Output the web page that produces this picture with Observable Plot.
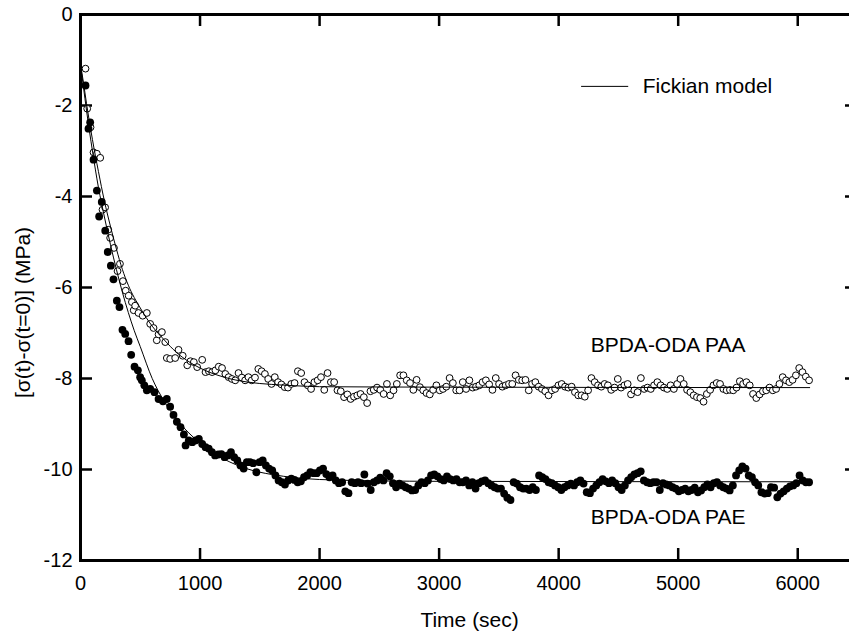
<!DOCTYPE html>
<html>
<head>
<meta charset="utf-8">
<script src="https://cdn.jsdelivr.net/npm/d3@7"></script>
<script src="https://cdn.jsdelivr.net/npm/@observablehq/plot@0.6"></script>
<style>
  html, body { margin: 0; padding: 0; background: #fff; overflow: hidden; }
  #chart { width: 849px; height: 634px; overflow: hidden; }
  #chart svg { max-width: none !important; }
</style>
</head>
<body>
<div id="chart"></div>
<script>
// ---- axis ticks ----
const xTicks = [0, 1000, 2000, 3000, 4000, 5000, 6000];
const yTicks = [0, -2, -4, -6, -8, -10, -12];

// ---- BPDA-ODA PAA (open circles): early decay, explicit times (s) ----
const paaEarlyT = [42, 56, 84, 109, 137, 165, 184, 206, 232, 248, 280, 310, 330, 355, 378, 403, 430, 445, 457, 485,
  520, 555, 583, 611, 638, 653, 681, 709, 722, 750, 792, 820, 855, 893, 920, 948, 976, 1018];
const paaEarlyV = [-1.19, -2.07, -2.48, -3.03, -3.06, -3.15, -4.29, -4.24, -4.73, -4.91, -5.13, -5.64, -5.48, -5.86, -6.07, -6.18, -6.32, -6.5, -6.4, -6.56,
  -6.62, -6.56, -6.8, -6.89, -7.16, -7.03, -6.98, -7.2, -7.55, -7.57, -7.55, -7.37, -7.5, -7.71, -7.62, -7.64, -7.75, -7.59];
// PAA plateau, evenly sampled from 1046 s to 6095 s
const paaPlateauStart = 1046, paaPlateauEnd = 6095;
const paaPlateauV = [
  -7.86, -7.84, -7.86, -7.82, -7.74, -7.77, -7.9, -7.97, -8.01, -8.04,
  -7.88, -7.98, -8.04, -7.97, -8.04, -7.98, -7.79, -7.84, -7.9, -8.01,
  -8.12, -7.97, -8.08, -8.13, -8.19, -8.2, -8.12, -8.1, -7.84, -7.88,
  -8.08, -8.15, -8.23, -8.08, -8.04, -7.97, -8.25, -7.88, -8.08, -8.08,
  -8.26, -8.28, -8.41, -8.35, -8.45, -8.4, -8.37, -8.34, -8.41, -8.54,
  -8.28, -8.25, -8.2, -8.25, -8.34, -8.12, -8.37, -8.26, -8.12, -7.93,
  -7.93, -8.04, -8.1, -8.25, -8.03, -8.19, -8.26, -8.32, -8.35, -8.25,
  -8.15, -8.26, -8.23, -8.18, -7.99, -8.1, -8.26, -8.26, -8.08, -8.23,
  -8.04, -8.2, -8.18, -8.15, -8.08, -8.04, -8.13, -8.25, -7.99, -8.12,
  -8.18, -8.15, -8.12, -8.12, -7.93, -8.03, -8.04, -8.03, -8.26, -8.12,
  -8.08, -8.18, -8.23, -8.28, -8.37, -8.26, -8.23, -8.15, -8.12, -8.18,
  -8.2, -8.18, -8.3, -8.37, -8.37, -8.4, -8.26, -7.99, -8.08, -8.15,
  -8.18, -8.12, -8.15, -8.25, -8.2, -8.01, -8.2, -8.15, -8.12, -8.35,
  -8.26, -8.3, -7.99, -8.23, -8.2, -8.23, -8.15, -8.08, -8.15, -8.2,
  -8.23, -8.15, -8.23, -8.12, -8.01, -8.12, -8.25, -8.3, -8.37, -8.41,
  -8.43, -8.51, -8.34, -8.25, -8.15, -8.1, -8.12, -8.23, -8.26, -8.25,
  -8.26, -8.2, -8.06, -8.12, -8.08, -8.15, -8.34, -8.43, -8.35, -8.28,
  -8.26, -8.2, -8.26, -8.23, -8.12, -7.97, -8.04, -8.08, -8.03, -7.93,
  -7.77, -7.86, -7.96, -8.04
];

// ---- BPDA-ODA PAE (filled circles): early decay, explicit times (s) ----
const paeEarlyT = [42, 67, 81, 109, 137, 156, 178, 207, 228, 254, 276, 304, 326, 351, 374, 402, 424, 452, 480, 499,
  513, 534, 555, 583, 619, 653, 690, 722, 750, 778, 806, 837, 865, 879, 906, 935, 962, 990, 1018];
const paeEarlyV = [-1.56, -2.51, -2.37, -3.19, -3.87, -4.44, -4.12, -4.75, -5.22, -5.52, -5.82, -6.29, -6.43, -6.93, -7.02, -7.18, -7.48, -7.74, -7.82, -7.97,
  -8.04, -8.15, -8.26, -8.23, -8.3, -8.45, -8.5, -8.45, -8.62, -8.8, -8.95, -9.07, -9.23, -9.47, -9.36, -9.4, -9.36, -9.33, -9.44];
// PAE plateau, evenly sampled from 1046 s to 6095 s
const paePlateauStart = 1046, paePlateauEnd = 6095;
const paePlateauV = [
  -9.51, -9.54, -9.62, -9.69, -9.67, -9.66, -9.73, -9.69, -9.62, -9.73,
  -9.8, -9.91, -9.98, -9.84, -9.84, -9.86, -10.06, -9.84, -9.8, -9.91,
  -9.98, -10.02, -10.13, -10.24, -10.28, -10.33, -10.24, -10.2, -10.23, -10.28,
  -10.26, -10.17, -10.13, -10.06, -10.08, -10.08, -10.02,
  -9.98, -10.1, -10.17, -10.13, -10.24, -10.3, -10.28, -10.48, -10.52, -10.28,
  -10.3, -10.28, -10.3, -10.11, -10.31, -10.45, -10.28, -10.24, -10.18, -10.24,
  -10.08, -10.15, -10.3, -10.39, -10.31, -10.35, -10.39, -10.42, -10.46, -10.45,
  -10.35, -10.28, -10.3, -10.24, -10.13, -10.11, -10.15, -10.21, -10.24, -10.15,
  -10.21, -10.24, -10.21, -10.28, -10.28, -10.24, -10.35, -10.28, -10.42, -10.3,
  -10.26, -10.24, -10.3, -10.35, -10.39, -10.42, -10.42, -10.53, -10.62, -10.67,
  -10.28, -10.31, -10.39, -10.42, -10.42, -10.45, -10.39, -10.45, -10.13, -10.17,
  -10.21, -10.28, -10.3, -10.35, -10.39, -10.45, -10.39, -10.35, -10.31, -10.35,
  -10.28, -10.24, -10.31, -10.5, -10.52, -10.42, -10.35, -10.28,
  -10.21, -10.26, -10.3, -10.24, -10.3, -10.39, -10.45, -10.35, -10.24, -10.17,
  -10.11, -10.08, -10.04, -10.24, -10.28, -10.3, -10.28, -10.28, -10.45, -10.3,
  -10.33, -10.35, -10.39, -10.42, -10.48, -10.45, -10.42, -10.48, -10.45, -10.4,
  -10.5, -10.46, -10.39, -10.33, -10.39, -10.3, -10.28, -10.35, -10.39, -10.42,
  -10.46, -10.35, -10.13, -10.02, -9.93, -9.98, -10.13, -10.17, -10.28, -10.35,
  -10.5, -10.53, -10.52, -10.39, -10.4, -10.61, -10.53, -10.48, -10.42, -10.37,
  -10.35, -10.3, -10.13, -10.24, -10.28, -10.28
];

// ---- Fickian model curves ----
const paaFitT = [0, 25, 50, 100, 150, 200, 250, 300, 350, 400, 500, 600, 700, 800, 900, 1000, 1200, 1400, 1600, 1800, 2000, 3000, 6100];
const paaFitV = [-1.1, -1.5, -1.95, -2.75, -3.45, -4.1, -4.65, -5.15, -5.6, -5.95, -6.45, -6.85, -7.15, -7.42, -7.62, -7.77, -7.97, -8.08, -8.13, -8.16, -8.18, -8.19, -8.2];
const paeFitT = [0, 25, 50, 100, 150, 200, 250, 300, 350, 400, 450, 500, 600, 700, 800, 900, 1000, 1200, 1400, 1600, 1800, 2000, 2500, 3000, 6100];
const paeFitV = [-1.1, -1.6, -2.1, -3.0, -3.8, -4.45, -5.05, -5.6, -6.1, -6.55, -6.95, -7.3, -8.0, -8.5, -8.88, -9.18, -9.42, -9.77, -9.99, -10.11, -10.18, -10.22, -10.25, -10.26, -10.27];

// ---- build tables ----
function plateau(values, t0, t1) {
  const n = values.length;
  return values.map((v, i) => ({t: t0 + i * (t1 - t0) / (n - 1), v}));
}
const paa = paaEarlyT.map((t, i) => ({t, v: paaEarlyV[i]})).concat(plateau(paaPlateauV, paaPlateauStart, paaPlateauEnd));
const pae = paeEarlyT.map((t, i) => ({t, v: paeEarlyV[i]})).concat(plateau(paePlateauV, paePlateauStart, paePlateauEnd));
const paaFit = paaFitT.map((t, i) => ({t, v: paaFitV[i]}));
const paeFit = paeFitT.map((t, i) => ({t, v: paeFitV[i]}));

const W = 857, H = 634, ML = 80, MR = 0, MT = 14, MB = 74;
const innerW = W - ML - MR, innerH = H - MT - MB;
const TICK = 12;
const font = "'Liberation Sans', Arial, Helvetica, sans-serif";

const chart = Plot.plot({
  width: W, height: H,
  marginLeft: ML, marginRight: MR, marginTop: MT, marginBottom: MB,
  style: {fontFamily: font, fontSize: "20px", color: "black", background: "white", overflow: "visible", maxWidth: "none"},
  x: {domain: [0, 6500], ticks: xTicks, tickFormat: d => String(d), tickSize: 0, tickPadding: 15, label: null},
  y: {domain: [-12, 0], ticks: yTicks, tickFormat: d => String(d), tickSize: 0, tickPadding: 8, label: null},
  marks: [
    // inward ticks on all four sides
    Plot.tickX(xTicks, {x: d => d, insetTop: innerH - TICK, stroke: "black", strokeWidth: 2.5}),
    Plot.tickX(xTicks, {x: d => d, insetBottom: innerH - TICK, stroke: "black", strokeWidth: 2.5}),
    Plot.tickY(yTicks, {y: d => d, insetRight: innerW - TICK, stroke: "black", strokeWidth: 2.5}),
    Plot.tickY(yTicks, {y: d => d, insetLeft: innerW - TICK, stroke: "black", strokeWidth: 2.5}),
    Plot.frame({stroke: "black", strokeWidth: 3}),
    // data
    Plot.dot(paa, {x: "t", y: "v", r: 3.4, fill: "white", stroke: "black", strokeWidth: 1}),
    Plot.dot(pae, {x: "t", y: "v", r: 3.9, fill: "black", stroke: "none"}),
    Plot.line(paaFit, {x: "t", y: "v", curve: "monotone-x", stroke: "black", strokeWidth: 1}),
    Plot.line(paeFit, {x: "t", y: "v", curve: "monotone-x", stroke: "black", strokeWidth: 1}),
    // legend
    Plot.ruleY([-1.58], {x1: 4192, x2: 4586, stroke: "black", strokeWidth: 1}),
    Plot.text(["Fickian model"], {text: d => d, x: 4703, y: -1.58, textAnchor: "start", fontSize: 21, fill: "black"}),
    // series labels
    Plot.text(["BPDA-ODA PAA"], {text: d => d, x: 4268, y: -7.275, textAnchor: "start", fontSize: 21, fill: "black"}),
    Plot.text(["BPDA-ODA PAE"], {text: d => d, x: 4268, y: -11.05, textAnchor: "start", fontSize: 21, fill: "black"}),
    // axis titles (placed just outside the frame)
    Plot.text(["[σ(t)-σ(t=0)] (MPa)"], {text: d => d, x: -477, y: -6.55, rotate: -90, fontSize: 21, fill: "black"}),
    Plot.text(["Time (sec)"], {text: d => d, x: 3255, y: -13.32, fontSize: 21, fill: "black"})
  ]
});
document.getElementById("chart").appendChild(chart);
</script>
</body>
</html>
